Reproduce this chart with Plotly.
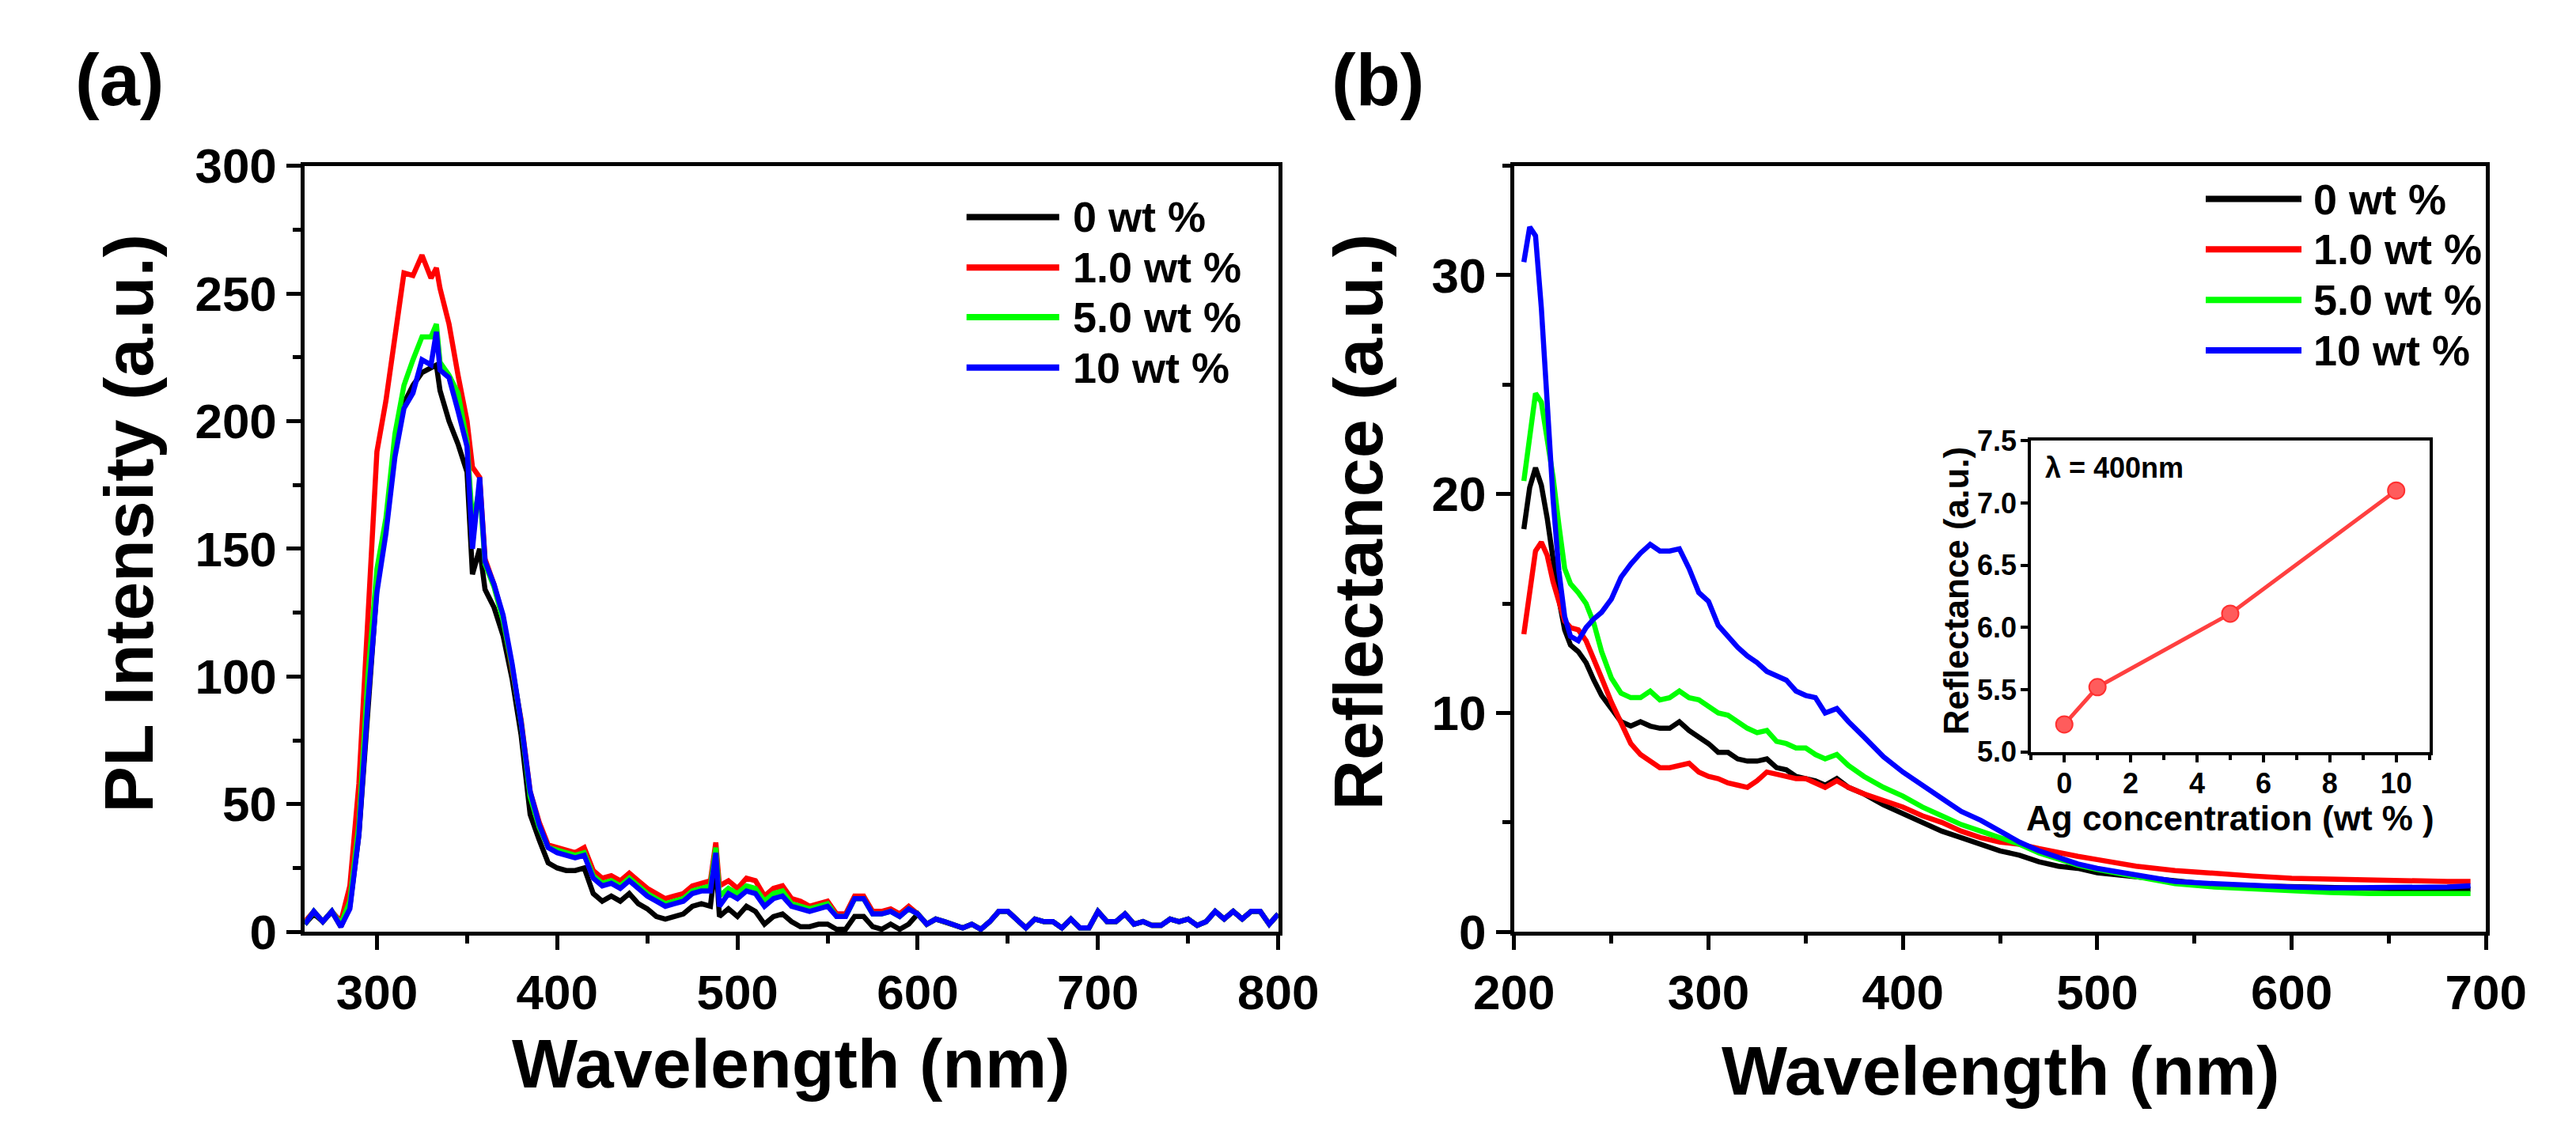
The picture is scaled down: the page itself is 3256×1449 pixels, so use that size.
import plotly.graph_objects as go

W, H = 3256, 1449
FONT = "Liberation Sans, Arial, sans-serif"

labels = ["0 wt %", "1.0 wt %", "5.0 wt %", "10 wt %"]
colors = ["#000000", "#ff0000", "#00ff00", "#0000ff"]

# (a) PL spectra
pl_wl = [260, 265, 270, 275, 280, 285, 290, 295, 300, 305, 310, 315, 320, 325, 330, 333,
         335, 340, 345, 350, 353, 357, 360, 365, 370, 375, 380, 385, 390, 395, 400, 405,
         410, 415, 420, 425, 430, 435, 440, 445, 450, 455, 460, 465, 470, 475, 480, 485,
         488, 490, 495, 500, 505, 510, 515, 520, 525, 530, 535, 540, 545, 550, 555, 560,
         565, 570, 575, 580, 585, 590, 595]
pl_0 = [3, 7, 4, 8, 2, 10, 38, 90, 135, 158, 188, 207, 214, 219, 221, 222,
        212, 200, 191, 180, 140, 150, 134, 127, 116, 99, 77, 46, 36, 27, 25, 24,
        24, 25, 15, 12, 14, 12, 15, 11, 9, 6, 5, 6, 7, 10, 11, 10,
        28, 6, 9, 6, 10, 8, 3, 6, 7, 4, 2, 2, 3, 3, 1, 1,
        6, 6, 2, 1, 3, 1, 3]
pl_1 = [4, 8, 4, 8, 4, 18, 58, 120, 188, 208, 232, 258, 257, 265, 256, 260,
        252, 238, 218, 200, 182, 178, 146, 136, 123, 104, 83, 55, 43, 34, 33, 32,
        31, 33, 24, 21, 22, 20, 23, 20, 17, 15, 13, 14, 15, 18, 19, 20,
        35, 18, 20, 17, 21, 20, 14, 17, 18, 13, 12, 10, 11, 12, 7, 7,
        14, 14, 8, 8, 9, 7, 10]
pl_5 = [3, 8, 4, 8, 3, 12, 42, 100, 142, 162, 195, 214, 224, 233, 233, 238,
        223, 218, 211, 192, 160, 174, 144, 135, 122, 104, 82, 53, 41, 33, 32, 31,
        30, 31, 22, 19, 20, 18, 21, 18, 15, 13, 11, 12, 13, 16, 17, 18,
        33, 14, 17, 15, 18, 17, 12, 15, 16, 11, 10, 9, 10, 11, 6, 6,
        13, 13, 7, 7, 8, 6, 9]
pl_10 = [3, 8, 4, 8, 2, 9, 38, 90, 133, 156, 186, 205, 211, 224, 222, 235,
         220, 217, 204, 190, 150, 178, 145, 136, 124, 105, 82, 55, 42, 33, 31, 30,
         29, 30, 21, 18, 19, 17, 20, 17, 14, 12, 10, 11, 12, 15, 16, 16,
         31, 10, 15, 13, 16, 15, 10, 13, 14, 10, 9, 8, 9, 10, 6, 6,
         13, 13, 7, 7, 8, 6, 9]
# 600-800 nm: the four spectra overlap in the noise floor
pl_tail_wl = [600, 605, 610, 615, 620, 625, 630, 635, 640, 645, 650, 655, 660, 665, 670,
              675, 680, 685, 690, 695, 700, 705, 710, 715, 720, 725, 730, 735, 740, 745,
              750, 755, 760, 765, 770, 775, 780, 785, 790, 795, 800]
pl_tail = [7, 3, 5, 4, 3, 1.5, 3, 1, 4, 8, 8, 5, 1.5, 5, 4,
           4, 1.5, 5, 1.5, 1.5, 8, 4, 4, 7, 3, 4, 2.5, 2.5, 5, 4,
           5, 2.5, 4, 8, 5, 8, 5, 8, 8, 3, 7]

# (b) reflectance spectra
refl_wl = [205, 208, 211, 214, 217, 220, 223, 226, 229, 233, 237, 241, 245, 250, 255, 260,
           265, 270, 275, 280, 285, 290, 295, 300, 305, 310, 315, 320, 325, 330, 335, 340,
           345, 350, 355, 360, 366, 372, 380, 390, 400, 410, 420, 430, 440, 450, 460, 470,
           480, 490, 500, 520, 540, 560, 580, 600, 620, 640, 660, 680, 692]
refl_0 = [18.4, 20.3, 21.2, 20.4, 18.9, 17.0, 15.2, 13.8, 13.1, 12.8, 12.3, 11.5, 10.8, 10.2, 9.6, 9.4,
          9.6, 9.4, 9.3, 9.3, 9.6, 9.2, 8.9, 8.6, 8.2, 8.2, 7.9, 7.8, 7.8, 7.9, 7.5, 7.4,
          7.1, 7.0, 6.9, 6.7, 7.0, 6.6, 6.3, 5.8, 5.4, 5.0, 4.6, 4.3, 4.0, 3.7, 3.5, 3.2,
          3.0, 2.9, 2.7, 2.5, 2.3, 2.15, 2.1, 2.05, 2.0, 1.95, 1.95, 1.95, 1.95]
refl_1 = [13.6, 15.6, 17.4, 17.8, 17.2, 16.0, 15.0, 14.2, 13.9, 13.8, 13.3, 12.5, 11.6, 10.5, 9.6, 8.6,
          8.1, 7.8, 7.5, 7.5, 7.6, 7.7, 7.3, 7.1, 7.0, 6.8, 6.7, 6.6, 6.9, 7.3, 7.2, 7.1,
          7.0, 7.0, 6.8, 6.6, 6.9, 6.6, 6.3, 6.0, 5.7, 5.3, 5.0, 4.6, 4.3, 4.1, 4.0, 3.8,
          3.6, 3.45, 3.3, 3.0, 2.8, 2.65, 2.55, 2.45, 2.4, 2.35, 2.3, 2.3, 2.3]
refl_5 = [20.6, 22.8, 24.6, 24.2, 22.6, 20.8, 18.6, 16.6, 15.9, 15.5, 15.0, 14.1, 12.8, 11.6, 10.9, 10.7,
          10.7, 11.0, 10.6, 10.7, 11.0, 10.7, 10.6, 10.3, 10.0, 9.9, 9.6, 9.3, 9.1, 9.2, 8.7, 8.6,
          8.4, 8.4, 8.1, 7.9, 8.1, 7.6, 7.1, 6.6, 6.2, 5.7, 5.3, 4.9, 4.6, 4.3, 4.0, 3.6,
          3.3, 3.05, 2.85, 2.5, 2.2, 2.05, 1.95, 1.85, 1.8, 1.75, 1.75, 1.75, 1.75]
refl_10 = [30.6, 32.2, 31.8, 28.5, 24.2, 19.8, 16.5, 14.4, 13.5, 13.3, 13.9, 14.3, 14.6, 15.2, 16.2, 16.8,
           17.3, 17.7, 17.4, 17.4, 17.5, 16.6, 15.5, 15.1, 14.0, 13.5, 13.0, 12.6, 12.3, 11.9, 11.7, 11.5,
           11.0, 10.8, 10.7, 10.0, 10.2, 9.6, 8.9, 8.0, 7.3, 6.7, 6.1, 5.5, 5.1, 4.6, 4.1, 3.7,
           3.4, 3.1, 2.9, 2.6, 2.3, 2.2, 2.1, 2.05, 2.0, 2.0, 2.0, 2.05, 2.1]

# inset: reflectance at 400 nm
ag_conc = [0, 1, 5, 10]
refl_400nm = [5.22, 5.52, 6.11, 7.10]


def px(x):
    return x / W


def py(y):
    return 1 - y / H


fig = go.Figure()

for name, color, ys in zip(labels, colors, [pl_0, pl_1, pl_5, pl_10]):
    fig.add_trace(go.Scatter(x=pl_wl + pl_tail_wl, y=ys + pl_tail, mode="lines", name=name,
                             line=dict(color=color, width=6.5), xaxis="x", yaxis="y"))

for name, color, ys in zip(labels, colors, [refl_0, refl_1, refl_5, refl_10]):
    fig.add_trace(go.Scatter(x=refl_wl, y=ys, mode="lines", name=name,
                             line=dict(color=color, width=6.5), xaxis="x2", yaxis="y2"))

fig.add_trace(go.Scatter(x=ag_conc, y=refl_400nm, mode="lines+markers",
                         line=dict(color="#ff4040", width=5),
                         marker=dict(size=21, color="#ff5c5c", line=dict(color="#ff3030", width=2)),
                         xaxis="x3", yaxis="y3"))

tick_font = dict(family=FONT, size=62, color="black", weight="bold")
main_ax = dict(showline=True, linewidth=5, linecolor="black", mirror=True, ticks="outside",
               ticklen=18, tickwidth=5, tickcolor="black", showgrid=False, zeroline=False,
               tickfont=tick_font)
inset_ax = dict(showline=True, linewidth=4, linecolor="black", mirror=True, ticks="outside",
                ticklen=9, tickwidth=4, tickcolor="black", showgrid=False, zeroline=False,
                tickfont=dict(family=FONT, size=36, color="black", weight="bold"))

y_dom = [py(1193), py(176)]
fig.update_layout(
    width=W, height=H, margin=dict(l=0, r=0, t=0, b=0),
    paper_bgcolor="white", plot_bgcolor="white", showlegend=False,
    xaxis=dict(main_ax, domain=[px(336), px(1607)], range=[260, 800], dtick=100,
               minor=dict(dtick=50, ticklen=10, tickwidth=5, ticks="outside"), anchor="y"),
    yaxis=dict(main_ax, domain=y_dom, range=[0, 300], dtick=50,
               minor=dict(dtick=25, ticklen=10, tickwidth=5, ticks="outside"), anchor="x"),
    xaxis2=dict(main_ax, domain=[px(1915), px(3184)], range=[200, 700], dtick=100,
                minor=dict(dtick=50, ticklen=10, tickwidth=5, ticks="outside"), anchor="y2"),
    yaxis2=dict(main_ax, domain=y_dom, range=[0, 35], dtick=10,
                minor=dict(dtick=5, ticklen=10, tickwidth=5, ticks="outside"), anchor="x2"),
    xaxis3=dict(inset_ax, domain=[px(2590), px(3110)], range=[-1, 11], dtick=2,
                ticklabelstandoff=-4,
                minor=dict(dtick=1, ticklen=6, tickwidth=4, ticks="outside"), anchor="y3"),
    yaxis3=dict(inset_ax, domain=[py(954), py(541)], range=[5.0, 7.5], dtick=0.5,
                ticklabelstandoff=-2, tickformat=".1f", anchor="x3"),
)

annotations = []


def text(x, y, s, size, angle=0, xanchor="center"):
    annotations.append(dict(x=px(x), y=py(y), xref="paper", yref="paper", text=s,
                            showarrow=False, textangle=angle, xanchor=xanchor, yanchor="middle",
                            font=dict(family=FONT, size=size, color="black", weight="bold")))


text(94, 62, "(a)", 92)
text(1737, 62, "(b)", 92)
text(971, 1368, "Wavelength (nm)", 88)
text(2550, 1377, "Wavelength (nm)", 88)
text(105, 651, "PL Intensity (a.u.)", 88, angle=-90)
text(1711, 649, "Reflectance (a.u.)", 88, angle=-90)
text(2492, 740, "Reflectance (a.u.)", 44, angle=-90)
text(2850, 1042, "Ag concentration (wt % )", 44)
text(2606, 577, "λ = 400nm", 36, xanchor="left")

# legends drawn as line samples + labels
shapes = []
legend_rows = [
    (1200, 1321, 1337, [244, 311, 377, 444]),
    (2818, 2943, 2956, [220, 287, 354, 421]),
]
for x0, x1, xt, rows in legend_rows:
    for name, color, yr in zip(labels, colors, rows):
        shapes.append(dict(type="line", xref="paper", yref="paper", x0=px(x0), x1=px(x1),
                           y0=py(yr), y1=py(yr), line=dict(color=color, width=8)))
        text(xt, yr, name, 54, xanchor="left")

fig.update_layout(annotations=annotations, shapes=shapes)

fig.write_html("out.html")
